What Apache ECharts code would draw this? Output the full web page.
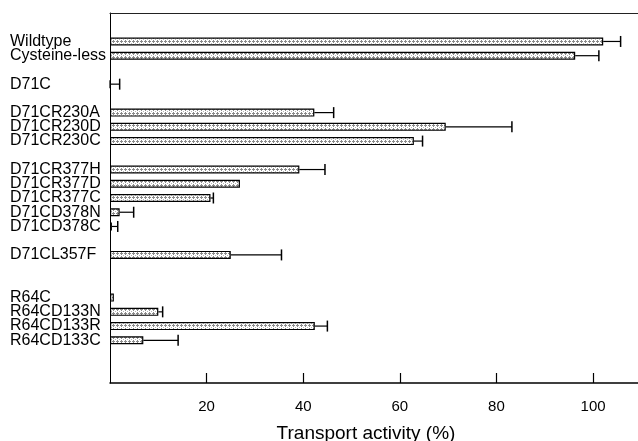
<!DOCTYPE html>
<html>
<head>
<meta charset="utf-8">
<script src="https://cdn.jsdelivr.net/npm/echarts@6/dist/echarts.min.js"></script>
<style>
html,body{margin:0;padding:0;background:#fff;}
#chart{width:638px;height:441px;}
</style>
</head>
<body>
<div id="chart"></div>
<script>
// Category slots (blank strings are gaps between groups)
var categories = ['', '', 'Wildtype', 'Cysteine-less', '', 'D71C', '', 'D71CR230A', 'D71CR230D', 'D71CR230C', '',
  'D71CR377H', 'D71CR377D', 'D71CR377C', 'D71CD378N', 'D71CD378C', '', 'D71CL357F', '', '',
  'R64C', 'R64CD133N', 'R64CD133R', 'R64CD133C', '', '', ''];
// Transport activity (%)
var activity = [null, null, 102.1, 96.3, null, 0, null, 42.3, 69.5, 62.9, null,
  39.2, 26.9, 20.8, 2.0, 0.4, null, 25.0, null, null,
  0.8, 10.0, 42.4, 6.9, null, null, null];
// Error (upper) amount
var errors = [null, null, 3.6, 4.9, null, 2.0, null, 4.0, 13.7, 1.8, null,
  5.3, 0, 0.6, 2.9, 1.2, null, 10.5, null, null,
  0, 0.9, 2.6, 7.2, null, null, null];
var xTicks = [20, 40, 60, 80, 100];
var xTitle = 'Transport activity (%)';

// stipple pattern for bars
var pc = document.createElement('canvas');
pc.width = 4; pc.height = 4;
var pctx = pc.getContext('2d');
pctx.fillStyle = '#ffffff'; pctx.fillRect(0, 0, 4, 4);
pctx.fillStyle = '#8a8a8a';
pctx.fillRect(1, 0, 1, 1); pctx.fillRect(0, 1, 3, 1); pctx.fillRect(1, 2, 1, 1);
pctx.fillStyle = '#b8b8b8';
pctx.fillRect(3, 3, 1, 1);

var errData = [];
for (var i = 0; i < categories.length; i++) {
  if (activity[i] !== null && errors[i]) errData.push([activity[i], activity[i] + errors[i], i]);
}

var chart = echarts.init(document.getElementById('chart'), null, {renderer: 'canvas'});
chart.setOption({
  animation: false,
  backgroundColor: '#fff',
  title: {
    text: xTitle, left: 361, top: 419, textAlign: 'center',
    textStyle: {fontFamily: 'Liberation Sans, Arial, sans-serif', fontSize: 19, fontWeight: 'normal', color: '#000'}
  },
  grid: {left: 110, right: 0, top: 13, bottom: 58, containLabel: false},
  xAxis: [{
    type: 'value', min: 0, max: 109.3, position: 'bottom',
    splitLine: {show: false},
    axisLine: {show: true, lineStyle: {color: '#000', width: 1.5}},
    axisTick: {show: true, inside: true, length: 10, customValues: xTicks, lineStyle: {color: '#000', width: 1.2}},
    axisLabel: {show: true, customValues: xTicks, margin: 16, color: '#000', fontSize: 15, fontFamily: 'Liberation Sans, Arial, sans-serif'}
  }, {
    type: 'value', min: 0, max: 109.3, position: 'top',
    splitLine: {show: false},
    axisLine: {show: true, lineStyle: {color: '#222', width: 1}},
    axisTick: {show: false}, axisLabel: {show: false}
  }],
  yAxis: {
    type: 'category', data: categories, inverse: true, boundaryGap: false,
    axisLine: {show: true, lineStyle: {color: '#000', width: 1}},
    axisTick: {show: false},
    splitLine: {show: false},
    axisLabel: {show: true, interval: 0, margin: 100, align: 'left', color: '#000', fontSize: 16, fontFamily: 'Liberation Sans, Arial, sans-serif'}
  },
  series: [{
    type: 'bar', data: activity, barWidth: 8, xAxisIndex: 0,
    itemStyle: {color: {image: pc, repeat: 'repeat'}, borderColor: '#000', borderWidth: 1.2},
    silent: true
  }, {
    type: 'custom', xAxisIndex: 0, data: errData, silent: true,
    encode: {x: [0, 1], y: 2},
    renderItem: function (params, api) {
      var y = api.value(2);
      var a = api.coord([api.value(0), y]);
      var b = api.coord([api.value(1), y]);
      return {
        type: 'group',
        children: [{
          type: 'line', shape: {x1: a[0], y1: a[1], x2: b[0], y2: b[1]},
          style: {stroke: '#000', lineWidth: 1.2}
        }, {
          type: 'line', shape: {x1: b[0], y1: b[1] - 5.5, x2: b[0], y2: b[1] + 5.5},
          style: {stroke: '#000', lineWidth: 1.5}
        }]
      };
    }
  }]
});
</script>
</body>
</html>
